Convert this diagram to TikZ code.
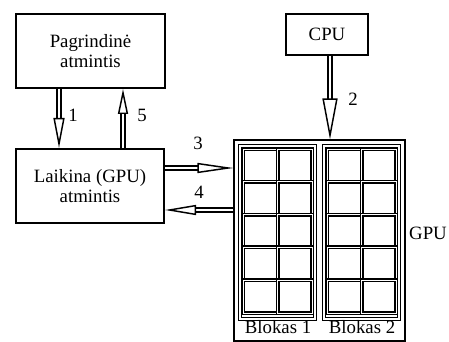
\documentclass[tikz,border=0pt]{standalone}
\usepackage{fontspec}
\setmainfont{Liberation Serif}
\usetikzlibrary{arrows.meta}
\begin{document}
\begin{tikzpicture}[x=0.75pt, y=-0.75pt, every node/.style={font=\fontsize{14.1}{15}\selectfont},
  main box/.style={draw, line width=1.5pt, rectangle, align=center, inner sep=0pt},
  gpu box/.style={draw, line width=0.8pt, rectangle, inner sep=0pt},
  block box/.style={draw, double, line width=0.9pt, double distance=0.9pt, rectangle, inner sep=0pt},
  cell/.style={draw, double, line width=1.2pt, double distance=0.6pt},
  dblarrow/.style={draw, double, line width=1.1pt, double distance=2.2pt},
  lbl/.style={anchor=base, inner sep=0pt}]
\useasboundingbox (0,0) rectangle (449,342);
% boxes
\node[main box, minimum width=111.75pt, minimum height=55.5pt] (mem) at (90.5,51) {Pagrindinė\\atmintis};
\node[main box, minimum width=111pt, minimum height=55.5pt] (tmp) at (90,186) {Laikina (GPU)\\atmintis};
\node[main box, minimum width=61.5pt, minimum height=30.75pt] (cpu) at (327,34.5) {CPU};
\node[gpu box, minimum width=128.25pt, minimum height=150.75pt] (gpu) at (319.5,240.5) {};
\node[block box, minimum width=56.25pt, minimum height=129.75pt] (blk1) at (277.5,232.5) {};
\node[block box, minimum width=56.25pt, minimum height=129.75pt] (blk2) at (361.5,232.5) {};
\foreach \bx in {243,327}
  \foreach \c in {0,1}
    \foreach \r in {0,...,4}
      \draw[cell] (\bx+\c*34.5, 149+\r*32.8) rectangle ++(34.5,32.8);
% arrows
\coordinate (a1) at (59,0);
\coordinate (a5) at (123,0);
\coordinate (a2) at (330,0);
\coordinate (a3) at (0,168);
\coordinate (a4) at (0,210);
\draw[dblarrow, -{Triangle[open, length=22.5pt, width=8.25pt]}] (a1 |- mem.south) -- (a1 |- tmp.north);
\draw[dblarrow, -{Triangle[open, length=18.75pt, width=7.5pt]}] (a5 |- tmp.north) -- (a5 |- mem.south);
\draw[dblarrow, -{Triangle[open, length=30.75pt, width=11.25pt]}] (a2 |- cpu.south) -- (a2 |- gpu.north);
\draw[dblarrow, -{Triangle[open, length=27pt, width=7.5pt]}] (tmp.east |- a3) -- (gpu.west |- a3);
\draw[dblarrow, -{Triangle[open, length=23.25pt, width=7.5pt]}] (gpu.west |- a4) -- (tmp.east |- a4);
% labels
\node[lbl] (n1) at (73,122) {1};
\node[lbl] (n5) at (142,122) {5};
\node[lbl] (n2) at (353,106) {2};
\node[lbl] (n3) at (198,150) {3};
\node[lbl] (n4) at (199,198) {4};
\node[lbl] (ngpu) at (428,239) {GPU};
\node[lbl] (b1) at (278,333) {Blokas 1};
\node[lbl] (b2) at (362,333) {Blokas 2};
\end{tikzpicture}
\end{document}
